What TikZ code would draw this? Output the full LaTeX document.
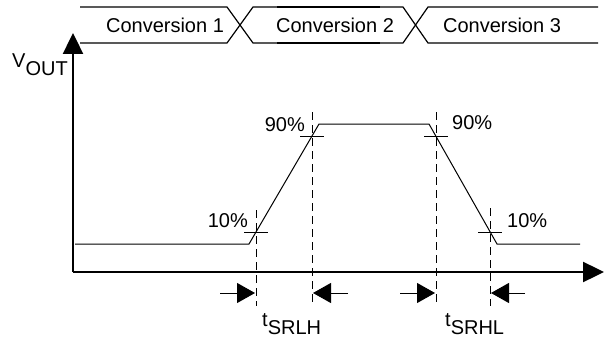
\documentclass[tikz,border=0pt]{standalone}
\usepackage{fontspec}
\setmainfont{Liberation Sans}
\usetikzlibrary{arrows.meta}

\begin{document}
\begin{tikzpicture}[x=1pt, y=-1pt,
  axis/.style = {line width=2.4pt, -{Triangle[length=21pt,width=20pt]}},
  wave/.style = {line width=1pt},
  bus/.style = {line width=1.2pt},
  guide/.style = {line width=1pt, dash pattern=on 8pt off 5pt},
  mark10/.style = {line width=1pt},
  timer/.style = {line width=1pt, -{Triangle[length=18pt,width=20pt]}},
  lbl/.style = {font=\fontsize{20}{24}\selectfont, inner sep=0pt}]
  \useasboundingbox (0,0) rectangle (604,337);
  % conversion bus
  \draw[bus] (80,7) -- (227,7) -- (253,43) -- (403,43) -- (428,7) -- (598,7);
  \draw[bus] (80,43) -- (227,43) -- (253,7) -- (403,7) -- (428,43) -- (598,43);
  \draw[line width=2.6pt] (277,7) -- (380,7);
  \draw[line width=2.6pt] (277,43) -- (380,43);
  \node[lbl] (c1) at (165,25) {Conversion 1};
  \node[lbl] (c2) at (335,25) {Conversion 2};
  \node[lbl] (c3) at (502,25) {Conversion 3};
  % axes
  \coordinate (o) at (73,272);
  \coordinate (ytip) at (73,33);
  \coordinate (xtip) at (604,272);
  \draw[axis] (o) -- (ytip);
  \draw[axis] (o) -- (xtip);
  \node[lbl, anchor=base west] (vout) at (12,67) {V\raisebox{-8pt}{OUT}};
  % output waveform
  \coordinate (a) at (75,244);
  \coordinate (b) at (249,244);
  \coordinate (c) at (319,124);
  \coordinate (d) at (429,124);
  \coordinate (e) at (497,244);
  \coordinate (f) at (580,244);
  \draw[wave] (a) -- (b) -- (c) -- (d) -- (e) -- (f);
  % crossings
  \coordinate (r10) at (256,232);
  \coordinate (r90) at (312,136);
  \coordinate (f90) at (436,136);
  \coordinate (f10) at (490,232);
  \foreach \p in {r10, r90, f90, f10} {
    \draw[mark10] ([xshift=-12pt]\p) -- ([xshift=12pt]\p);
  }
  \draw[guide] (256,210) -- (256,306);
  \draw[guide] (312,112) -- (312,306);
  \draw[guide] (436,112) -- (436,306);
  \draw[guide] (490,208) -- (490,306);
  \node[lbl, anchor=east] (l10) at (248,221) {10\%};
  \node[lbl, anchor=east] (l90) at (305,125) {90\%};
  \node[lbl, anchor=west] (h90) at (452,123) {90\%};
  \node[lbl, anchor=west] (h10) at (507,221) {10\%};
  % slew times
  \draw[timer] (220,293) -- (255,293);
  \draw[timer] (348,293) -- (313,293);
  \draw[timer] (400,293) -- (435,293);
  \draw[timer] (525,293) -- (491,293);
  \node[lbl, anchor=base west] (tlh) at (262,326) {t\raisebox{-8pt}{SRLH}};
  \node[lbl, anchor=base west] (thl) at (445,326) {t\raisebox{-8pt}{SRHL}};
\end{tikzpicture}
\end{document}
